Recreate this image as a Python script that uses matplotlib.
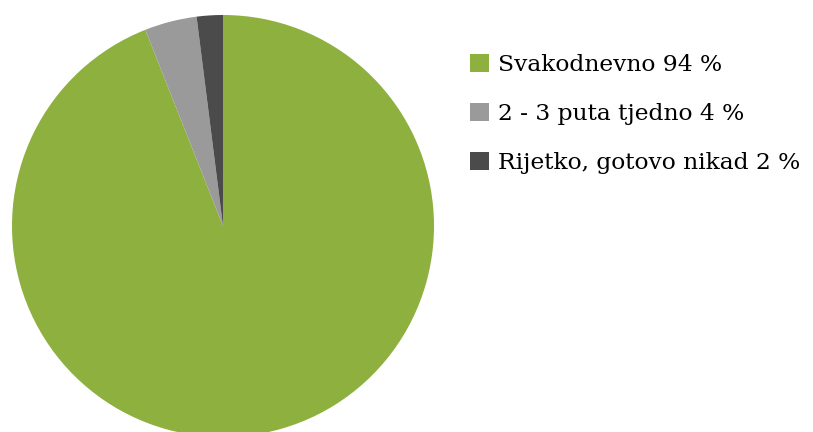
import matplotlib.pyplot as plt
from matplotlib.patches import Patch

labels = ["Svakodnevno 94 %", "2 - 3 puta tjedno 4 %", "Rijetko, gotovo nikad 2 %"]
values = [94, 4, 2]
colors = ["#8db03e", "#9a9a9a", "#4b4b4b"]

W, H = 813, 432
fig = plt.figure(figsize=(W / 100, H / 100), dpi=100)

# pie axes: centre ~ (223, 226) px, radius ~211 px
ax = fig.add_axes([12 / W, -5 / H, 422 / W, 422 / H])
ax.pie(values, colors=colors, startangle=90, counterclock=False, radius=1,
       wedgeprops=dict(linewidth=0))
ax.set_xlim(-1, 1)
ax.set_ylim(-1, 1)
ax.set_aspect("equal")
ax.axis("off")

handles = [Patch(facecolor=c, edgecolor="none") for c in colors]
fig.legend(handles, labels, loc="upper left", bbox_to_anchor=(470 / W, 1 - 54 / H),
           frameon=False, prop=dict(family="DejaVu Serif", size=16.8),
           handlelength=0.8, handleheight=0.8, handletextpad=0.38,
           labelspacing=1.15, borderaxespad=0, borderpad=0)

fig.savefig("out.png", dpi=100)
